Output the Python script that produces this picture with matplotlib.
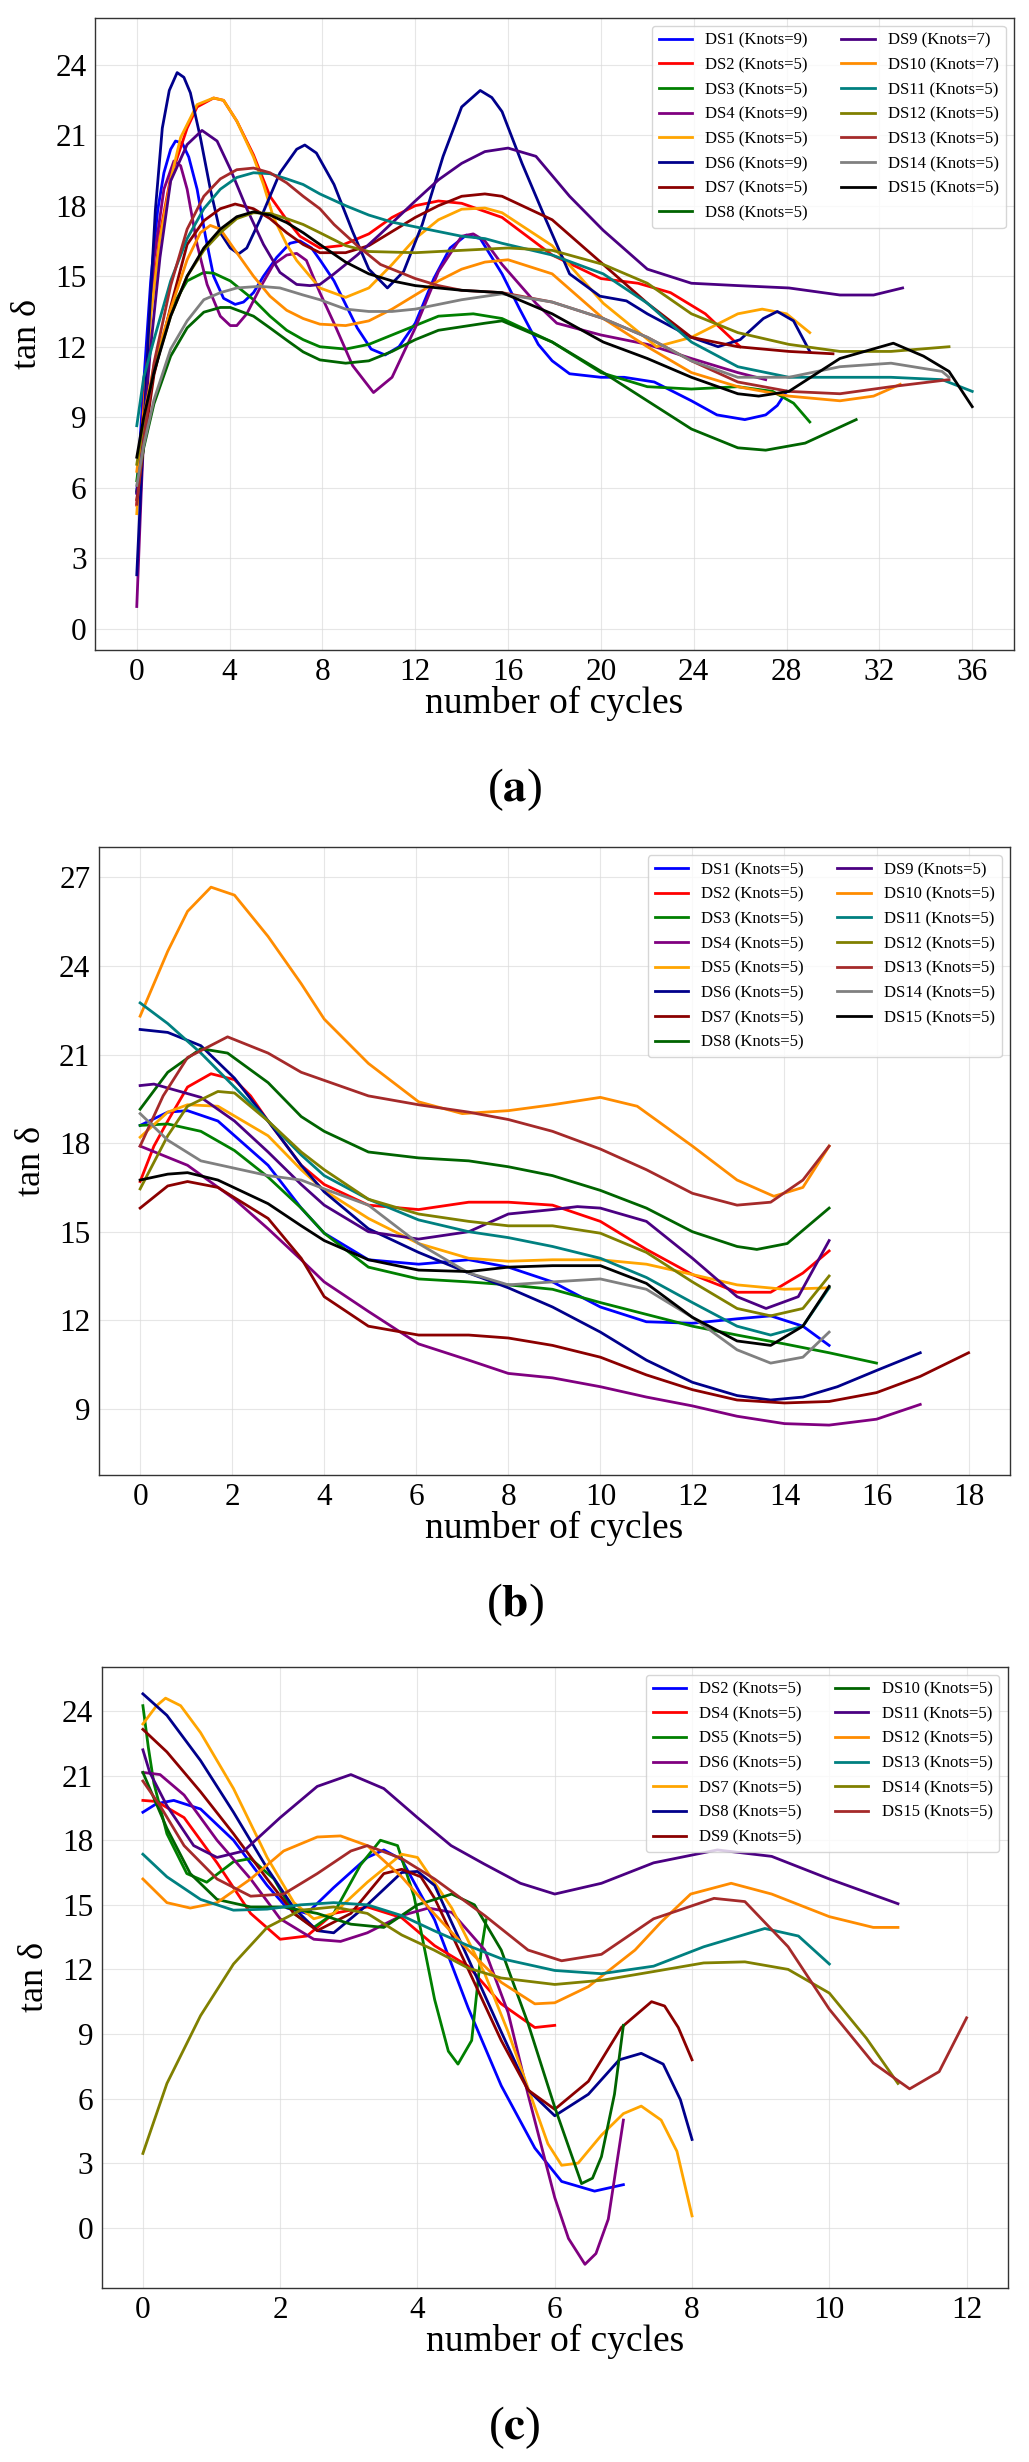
import matplotlib.pyplot as plt

plt.rcParams['font.family'] = ['Liberation Serif', 'DejaVu Serif']
plt.rcParams['mathtext.fontset'] = 'stix'

# ---------------- panel (a) : (cycle, tan delta) ----------------
A_DS1 = [(0, 5.8), (0.3, 10.5), (0.6, 14.8), (0.9, 17.8), (1.17, 19.4), (1.46, 20.4), (1.67, 20.75),
         (1.96, 20.66), (2.24, 20.07), (2.6, 18.7), (2.96, 16.7), (3.31, 15.0), (3.74, 14.06), (4.24, 13.8),
         (4.6, 13.9), (5.03, 14.3), (5.46, 15.0), (6.03, 15.8), (6.6, 16.4), (7.03, 16.5), (7.53, 16.2),
         (7.89, 15.7), (8.5, 14.8), (9.5, 12.8), (10.1, 11.9), (10.7, 11.65), (11.3, 12.0), (12, 13.0),
         (12.8, 14.9), (13.5, 16.2), (14.2, 16.75), (14.8, 16.6), (15.74, 15.1), (16.5, 13.6), (17.3, 12.1),
         (17.9, 11.4), (18.65, 10.85), (20, 10.7), (21, 10.7), (22.3, 10.5), (23.9, 9.7), (25, 9.1),
         (26.2, 8.9), (27.1, 9.1), (27.6, 9.5), (28, 10.1)]
A_DS2 = [(0, 5.26), (0.3, 9.5), (0.6, 13.5), (1.0, 16.8), (1.46, 19.2), (2.17, 21.3), (2.6, 22.2),
         (3.31, 22.58), (3.74, 22.48), (4.31, 21.6), (5.03, 20.16), (5.74, 18.4), (6.46, 17.4), (7.03, 16.7),
         (7.89, 16.2), (8.8, 16.3), (10, 16.8), (11, 17.5), (12, 18.0), (13, 18.2), (14, 18.1), (15.74, 17.5),
         (17.9, 15.9), (20, 14.9), (21.6, 14.7), (23, 14.3), (24.5, 13.4), (26, 12.0)]
A_DS3 = [(0, 6.3), (0.3, 8.6), (0.74, 10.9), (1.46, 13.6), (2.17, 14.8), (2.89, 15.16), (3.31, 15.13),
         (4.03, 14.8), (5.03, 14.0), (5.74, 13.3), (6.46, 12.7), (7.17, 12.3), (7.89, 12.0), (9, 11.9),
         (10, 12.1), (11, 12.5), (12, 12.9), (13, 13.3), (14.5, 13.4), (15.74, 13.2), (17.9, 12.2),
         (20, 10.9), (22, 10.3), (23.9, 10.2), (25.9, 10.3), (27.4, 10.1), (28.3, 9.6), (29, 8.8)]
A_DS4 = [(0, 0.95), (0.2, 6.0), (0.45, 11.5), (0.74, 15.7), (1.17, 18.7), (1.6, 19.9), (1.89, 19.7),
         (2.17, 18.7), (2.6, 16.35), (3.03, 14.65), (3.6, 13.3), (4.03, 12.9), (4.31, 12.9), (4.74, 13.4),
         (5.31, 14.5), (5.89, 15.5), (6.46, 15.9), (6.89, 15.97), (7.31, 15.67), (7.89, 14.3), (8.5, 13.0),
         (9.3, 11.2), (10.2, 10.05), (11, 10.7), (12, 12.8), (13, 15.2), (14, 16.7), (14.5, 16.8), (15, 16.5),
         (15.74, 15.5), (17.2, 13.85), (18.1, 13.0), (20, 12.5), (22, 12.1), (23.9, 11.5), (25.9, 10.9),
         (27.1, 10.6)]
A_DS5 = [(0, 4.9), (0.3, 9.2), (0.6, 13.3), (1.0, 16.6), (1.46, 19.1), (1.89, 20.9), (2.6, 22.3),
         (3.31, 22.58), (3.74, 22.48), (4.31, 21.6), (5.03, 20.07), (5.46, 18.9), (5.89, 17.5), (6.46, 16.35),
         (6.89, 15.67), (7.46, 15.0), (7.89, 14.5), (9, 14.1), (10, 14.5), (11, 15.5), (12, 16.6), (13, 17.4),
         (14, 17.85), (15, 17.9), (15.74, 17.7), (17.9, 16.3), (20.1, 13.85), (22.4, 12.0), (23.9, 12.4),
         (25.9, 13.4), (26.95, 13.6), (28, 13.4), (29, 12.6)]
A_DS6 = [(0, 2.3), (0.2, 6.5), (0.5, 12.5), (0.8, 17.8), (1.1, 21.3), (1.4, 22.9), (1.74, 23.66),
         (2.03, 23.46), (2.31, 22.8), (2.74, 20.9), (3.17, 18.7), (3.6, 16.85), (4.03, 16.2), (4.39, 15.95),
         (4.74, 16.2), (5.31, 17.4), (6.17, 19.4), (6.89, 20.4), (7.24, 20.58), (7.74, 20.24), (8.5, 18.9),
         (9.3, 16.9), (10, 15.3), (10.8, 14.5), (11.5, 15.2), (12.3, 17.2), (13.2, 20.1), (14, 22.2),
         (14.8, 22.9), (15.3, 22.6), (15.74, 22.0), (16.6, 19.8), (17.63, 17.4), (18.65, 15.1), (19.96, 14.15),
         (21.1, 13.95), (22, 13.4), (23.9, 12.4), (25.05, 12.0), (26, 12.3), (27, 13.2), (27.6, 13.5),
         (28.3, 13.1), (29, 11.8)]
A_DS7 = [(0, 5.5), (0.3, 7.8), (0.74, 10.8), (1.46, 13.7), (2.17, 16.35), (2.89, 17.36), (3.6, 17.87),
         (4.24, 18.07), (5.03, 17.87), (5.74, 17.45), (6.46, 16.85), (7.17, 16.35), (7.89, 16.0), (9, 16.0),
         (10, 16.3), (11, 16.9), (12, 17.5), (13, 18.0), (14, 18.4), (15, 18.5), (15.74, 18.4), (17.9, 17.4),
         (20.1, 15.5), (22, 13.85), (23.9, 12.4), (25.9, 12.0), (28.1, 11.8), (30, 11.7)]
A_DS8 = [(0, 5.85), (0.3, 7.7), (0.74, 9.57), (1.46, 11.6), (2.17, 12.8), (2.89, 13.47), (3.6, 13.67),
         (4.03, 13.67), (5.03, 13.3), (5.74, 12.8), (6.46, 12.28), (7.17, 11.78), (7.89, 11.44), (9, 11.3),
         (10, 11.4), (11, 11.8), (12, 12.3), (13, 12.7), (15, 13.0), (15.74, 13.1), (17.9, 12.2), (20.1, 10.9),
         (22, 9.7), (23.9, 8.5), (25.9, 7.7), (27.1, 7.6), (28.8, 7.9), (31, 8.9)]
A_DS9 = [(0, 5.76), (0.3, 8.5), (0.6, 12.0), (1.0, 15.8), (1.46, 19.05), (2.17, 20.6), (2.81, 21.2),
         (3.46, 20.75), (4.03, 19.56), (4.74, 17.87), (5.46, 16.35), (6.17, 15.16), (6.89, 14.65), (7.46, 14.6),
         (7.89, 14.65), (8.5, 15.1), (9.5, 15.9), (10.5, 16.8), (12, 18.2), (13, 19.1), (14, 19.8), (15, 20.3),
         (16, 20.45), (17.2, 20.1), (18.65, 18.4), (20.1, 16.95), (22, 15.3), (23.9, 14.7), (25.9, 14.6),
         (28.1, 14.5), (30.3, 14.2), (31.75, 14.2), (33, 14.5)]
A_DS10 = [(0, 6.7), (0.3, 9.0), (0.74, 11.2), (1.46, 13.6), (2.17, 15.7), (2.74, 16.85), (3.17, 17.16),
          (3.6, 17.0), (4.31, 16.0), (5.03, 15.0), (5.74, 14.15), (6.46, 13.55), (7.17, 13.2), (7.89, 12.96),
          (9, 12.9), (10, 13.1), (11, 13.6), (12, 14.2), (13, 14.8), (14, 15.3), (15, 15.6), (16, 15.7),
          (17.9, 15.1), (20.1, 13.2), (22, 12.0), (23.9, 10.9), (25.9, 10.3), (28.1, 9.9), (30.3, 9.7),
          (31.75, 9.9), (32.9, 10.4)]
A_DS11 = [(0, 8.64), (0.3, 10.7), (0.74, 12.3), (1.46, 14.8), (2.17, 16.6), (2.89, 17.87), (3.6, 18.7),
          (4.31, 19.2), (5.03, 19.4), (5.74, 19.36), (6.46, 19.14), (7.17, 18.9), (7.89, 18.5), (9, 18.0),
          (10, 17.6), (11, 17.3), (12, 17.1), (13, 16.9), (14, 16.7), (15, 16.6), (15.74, 16.4), (17.9, 15.9),
          (20.1, 15.1), (22, 13.85), (23.9, 12.2), (25.9, 11.15), (28.1, 10.7), (30.3, 10.7), (32.5, 10.7),
          (34.7, 10.6), (36, 10.1)]
A_DS12 = [(0, 7.0), (0.3, 8.8), (0.74, 11.0), (1.46, 13.3), (2.17, 15.0), (2.89, 16.1), (3.6, 16.85),
          (4.31, 17.45), (5.03, 17.7), (5.74, 17.67), (6.46, 17.45), (7.17, 17.2), (7.89, 16.85), (9, 16.3),
          (10, 16.05), (12, 16.0), (14, 16.1), (16, 16.2), (17.9, 16.1), (20.1, 15.5), (22, 14.7), (23.9, 13.4),
          (25.9, 12.6), (28.1, 12.1), (30.3, 11.8), (32.5, 11.8), (35, 12.0)]
A_DS13 = [(0, 5.3), (0.3, 8.0), (0.74, 11.3), (1.46, 14.6), (2.17, 17.0), (2.89, 18.4), (3.6, 19.14),
          (4.31, 19.53), (5.03, 19.6), (5.74, 19.4), (6.46, 18.97), (7.17, 18.4), (7.89, 17.87), (8.5, 17.2),
          (9.5, 16.3), (10.5, 15.5), (12, 14.9), (13, 14.6), (14, 14.4), (15.74, 14.3), (17.9, 13.9),
          (20.1, 13.2), (22, 12.4), (23.9, 11.4), (25.9, 10.5), (28.1, 10.1), (30.3, 10.0), (32.5, 10.3),
          (35, 10.6)]
A_DS14 = [(0, 6.1), (0.3, 7.8), (0.74, 9.74), (1.46, 11.9), (2.17, 13.1), (2.89, 14.0), (3.6, 14.3),
          (4.31, 14.5), (5.31, 14.57), (6.17, 14.5), (7.17, 14.2), (7.89, 14.0), (9, 13.6), (10, 13.5),
          (11, 13.5), (12, 13.6), (13, 13.8), (14, 14.0), (15.74, 14.25), (17.9, 13.9), (20.1, 13.2),
          (22, 12.4), (23.9, 11.4), (25.9, 10.7), (28.1, 10.7), (30.3, 11.15), (32.5, 11.3), (34.7, 10.95),
          (35, 10.7)]
A_DS15 = [(0, 7.3), (0.3, 9.0), (0.74, 10.9), (1.46, 13.3), (2.17, 15.0), (2.89, 16.2), (3.6, 17.0),
          (4.31, 17.53), (5.03, 17.74), (5.74, 17.6), (6.46, 17.28), (7.17, 16.85), (7.89, 16.35), (9, 15.6),
          (10, 15.1), (11, 14.8), (12, 14.6), (13, 14.5), (14, 14.4), (15.74, 14.3), (17.9, 13.4), (20.1, 12.2),
          (22, 11.5), (23.9, 10.7), (25.9, 10.0), (26.8, 9.9), (28.1, 10.1), (30.3, 11.5), (32.6, 12.15),
          (33.9, 11.6), (35, 10.95), (36, 9.45)]

# ---------------- panel (b) ----------------
B_DS1 = [(0, 18.6), (0.6, 19.05), (1.03, 19.1), (1.69, 18.75), (2.78, 17.25), (3.5, 15.8), (4, 14.95),
         (4.96, 14.05), (6.05, 13.9), (7.14, 14.05), (8, 13.8), (8.96, 13.3), (10, 12.45), (11, 11.95),
         (12, 11.9), (12.97, 12.05), (13.7, 12.15), (14.4, 11.8), (14.97, 11.15)]
B_DS2 = [(0, 16.7), (0.3, 17.9), (0.6, 18.75), (1.03, 19.9), (1.54, 20.35), (2.05, 20.15), (2.4, 19.6),
         (2.78, 18.75), (3.5, 17.25), (4, 16.6), (4.96, 15.9), (6.05, 15.75), (7.14, 16.0), (8, 16.0),
         (8.96, 15.9), (10, 15.35), (11, 14.4), (12, 13.55), (12.97, 12.95), (13.7, 12.95), (14.4, 13.6),
         (14.97, 14.35)]
B_DS3 = [(0, 18.6), (0.6, 18.65), (1.32, 18.4), (2.05, 17.75), (2.78, 16.85), (3.5, 15.8), (4, 14.95),
         (4.96, 13.8), (6.05, 13.4), (7.14, 13.3), (8, 13.2), (8.96, 13.05), (10, 12.6), (11, 12.2), (12, 11.8),
         (12.97, 11.5), (14, 11.2), (14.97, 10.9), (16, 10.55)]
B_DS4 = [(0, 17.9), (1.03, 17.25), (2.05, 16.1), (2.78, 15.1), (3.5, 14.05), (4, 13.3), (4.96, 12.3),
         (6.05, 11.2), (7.14, 10.65), (8, 10.2), (8.96, 10.05), (10, 9.75), (11, 9.4), (12, 9.1), (12.97, 8.75),
         (14, 8.5), (14.97, 8.45), (16, 8.65), (16.95, 9.15)]
B_DS5 = [(0, 18.2), (0.6, 19.05), (1.03, 19.3), (1.69, 19.25), (2.78, 18.25), (3.5, 17.1), (4, 16.4),
         (4.96, 15.45), (6.05, 14.6), (7.14, 14.1), (8, 14.0), (8.96, 14.05), (10, 14.05), (11, 13.9),
         (12, 13.55), (12.97, 13.2), (14, 13.05), (14.97, 13.1)]
B_DS6 = [(0, 21.85), (0.6, 21.75), (1.32, 21.3), (2.05, 20.2), (2.78, 18.75), (3.5, 17.25), (4, 16.35),
         (4.96, 15.1), (6.05, 14.3), (7.14, 13.6), (8, 13.1), (8.96, 12.45), (10, 11.6), (11, 10.65),
         (12, 9.9), (12.97, 9.45), (13.7, 9.3), (14.4, 9.4), (15.15, 9.75), (16, 10.3), (16.95, 10.9)]
B_DS7 = [(0, 15.8), (0.6, 16.55), (1.03, 16.7), (1.69, 16.5), (2.78, 15.45), (3.5, 14.1), (4, 12.8),
         (4.96, 11.8), (6.05, 11.5), (7.14, 11.5), (8, 11.4), (8.96, 11.15), (10, 10.75), (11, 10.15),
         (12, 9.65), (12.97, 9.3), (14, 9.2), (14.97, 9.25), (16, 9.55), (16.95, 10.1), (18, 10.9)]
B_DS8 = [(0, 19.15), (0.6, 20.4), (1.32, 21.2), (1.9, 21.05), (2.78, 20.05), (3.5, 18.9), (4, 18.4),
         (4.96, 17.7), (6.05, 17.5), (7.14, 17.4), (8, 17.2), (8.96, 16.9), (10, 16.4), (11, 15.8), (12, 15.0),
         (12.97, 14.5), (13.4, 14.4), (14.06, 14.6), (14.97, 15.8)]
B_DS9 = [(0, 19.95), (0.3, 20.0), (1.32, 19.55), (2.05, 18.75), (2.78, 17.7), (3.5, 16.6), (4, 15.9),
         (4.96, 15.0), (6.05, 14.75), (7.14, 15.0), (8, 15.6), (8.96, 15.75), (9.5, 15.85), (10, 15.8),
         (11, 15.35), (12, 14.1), (12.97, 12.8), (13.6, 12.4), (14.3, 12.8), (14.97, 14.7)]
B_DS10 = [(0, 22.3), (0.6, 24.5), (1.03, 25.85), (1.54, 26.67), (2.05, 26.4), (2.78, 25.0), (3.5, 23.4),
          (4, 22.2), (4.96, 20.7), (6.05, 19.4), (7.0, 19.0), (8, 19.1), (8.96, 19.3), (10, 19.55),
          (10.8, 19.25), (12, 17.9), (12.97, 16.75), (13.77, 16.2), (14.4, 16.5), (14.97, 17.9)]
B_DS11 = [(0, 22.75), (0.6, 22.05), (1.32, 21.05), (2.05, 19.9), (2.78, 18.75), (3.5, 17.6), (4, 16.9),
          (4.96, 16.1), (6.05, 15.4), (7.14, 15.0), (8, 14.8), (8.96, 14.5), (10, 14.1), (11, 13.45),
          (12, 12.6), (12.97, 11.8), (13.7, 11.5), (14.4, 11.8), (14.97, 13.1)]
B_DS12 = [(0, 16.45), (0.6, 18.25), (1.03, 19.25), (1.69, 19.75), (2.05, 19.7), (2.78, 18.75), (3.5, 17.7),
          (4, 17.1), (4.96, 16.1), (6.05, 15.6), (7.14, 15.35), (8, 15.2), (8.96, 15.2), (10, 14.95),
          (11, 14.3), (12, 13.3), (12.97, 12.4), (13.7, 12.15), (14.4, 12.4), (14.97, 13.5)]
B_DS13 = [(0, 17.9), (0.5, 19.6), (1.03, 20.9), (1.9, 21.6), (2.78, 21.05), (3.5, 20.4), (4.23, 20.0),
          (4.96, 19.6), (6.05, 19.3), (7.14, 19.05), (8, 18.8), (8.96, 18.4), (10, 17.8), (11, 17.1),
          (12, 16.3), (12.97, 15.9), (13.7, 16.0), (14.4, 16.75), (14.97, 17.9)]
B_DS14 = [(0, 19.0), (0.6, 18.1), (1.32, 17.4), (2.05, 17.15), (2.78, 16.9), (3.5, 16.75), (4, 16.45),
          (4.96, 15.9), (6.05, 14.6), (7.14, 13.6), (8, 13.2), (8.96, 13.3), (10, 13.4), (11, 13.05),
          (12, 12.1), (12.97, 11.0), (13.7, 10.55), (14.4, 10.75), (14.97, 11.6)]
B_DS15 = [(0, 16.75), (0.6, 16.95), (1.03, 17.0), (1.69, 16.75), (2.78, 15.95), (3.5, 15.2), (4, 14.7),
          (4.96, 14.05), (6.05, 13.7), (7.14, 13.65), (8, 13.8), (8.96, 13.85), (10, 13.85), (11, 13.25),
          (12, 12.1), (12.97, 11.3), (13.7, 11.15), (14.4, 11.8), (14.97, 13.15)]

# ---------------- panel (c) ----------------
C_DS2 = [(0, 19.3), (0.2, 19.7), (0.45, 19.85), (0.84, 19.45), (1.32, 18.0), (1.81, 15.9), (2.1, 14.85),
         (2.39, 14.6), (2.78, 15.8), (3.27, 17.2), (3.51, 17.55), (3.77, 17.1), (4.25, 14.3), (4.74, 10.2),
         (5.22, 6.6), (5.71, 3.7), (6.1, 2.15), (6.58, 1.7), (7.0, 2.0)]
C_DS4 = [(0, 19.85), (0.2, 19.8), (0.6, 19.05), (1.08, 16.95), (1.57, 14.6), (2.0, 13.4), (2.39, 13.55),
         (2.78, 14.6), (3.27, 14.9), (3.77, 14.4), (4.25, 13.1), (4.74, 12.15), (5.22, 10.4), (5.71, 9.3),
         (6.0, 9.4)]
C_DS5 = [(0, 24.25), (0.08, 22.3), (0.16, 20.65), (0.35, 18.3), (0.64, 16.45), (0.93, 16.05), (1.32, 17.0),
         (1.57, 17.15), (1.91, 16.2), (2.2, 14.6), (2.49, 13.95), (2.78, 14.6), (3.17, 16.85), (3.46, 18.0),
         (3.71, 17.75), (3.95, 15.4), (4.25, 10.6), (4.45, 8.2), (4.59, 7.6), (4.79, 8.7), (4.93, 12.9),
         (5.0, 14.3)]
C_DS6 = [(0, 21.15), (0.25, 21.05), (0.6, 20.1), (1.08, 18.0), (1.57, 16.2), (2.0, 14.35), (2.49, 13.4),
         (2.88, 13.3), (3.27, 13.7), (3.77, 14.5), (4.16, 14.85), (4.5, 14.65), (4.98, 12.9), (5.32, 10.0),
         (5.61, 6.2), (6.0, 1.4), (6.2, -0.5), (6.44, -1.7), (6.6, -1.2), (6.78, 0.4), (7.0, 5.0)]
C_DS7 = [(0, 23.4), (0.2, 24.25), (0.33, 24.6), (0.55, 24.25), (0.84, 23.0), (1.32, 20.4), (1.81, 17.2),
         (2.2, 15.1), (2.49, 14.35), (2.78, 14.6), (3.27, 16.05), (3.77, 17.35), (4.0, 17.2), (4.5, 14.85),
         (4.98, 11.8), (5.32, 9.1), (5.71, 5.6), (5.9, 3.9), (6.1, 2.9), (6.34, 3.0), (6.68, 4.3), (7.0, 5.3),
         (7.26, 5.65), (7.55, 5.0), (7.78, 3.55), (8.0, 0.55)]
C_DS8 = [(0, 24.8), (0.35, 23.8), (0.84, 21.7), (1.32, 19.3), (1.81, 16.7), (2.2, 14.85), (2.54, 13.8),
         (2.78, 13.7), (3.27, 15.0), (3.77, 16.5), (4.0, 16.55), (4.25, 15.9), (4.74, 12.5), (5.22, 9.1),
         (5.61, 6.4), (6.0, 5.2), (6.49, 6.2), (6.94, 7.8), (7.26, 8.1), (7.58, 7.6), (7.83, 5.95), (8.0, 4.1)]
C_DS9 = [(0, 23.15), (0.35, 22.1), (0.84, 20.25), (1.32, 18.3), (1.81, 16.2), (2.2, 14.6), (2.54, 13.8),
         (3.03, 14.6), (3.51, 16.45), (3.77, 16.65), (4.05, 16.3), (4.25, 15.3), (4.74, 12.0), (5.22, 8.7),
         (5.61, 6.4), (6.0, 5.5), (6.49, 6.8), (6.97, 9.3), (7.41, 10.5), (7.6, 10.3), (7.8, 9.3), (8.0, 7.8)]
C_DS10 = [(0, 21.15), (0.35, 18.55), (0.69, 16.45), (1.08, 15.25), (1.57, 14.9), (2.05, 14.9), (2.54, 14.6),
          (3.03, 14.1), (3.51, 13.95), (4.0, 15.0), (4.5, 15.5), (4.83, 15.0), (5.22, 12.9), (5.61, 9.5),
          (6.0, 5.6), (6.39, 2.05), (6.55, 2.3), (6.68, 3.3), (6.87, 6.2), (7.0, 9.4)]
C_DS11 = [(0, 22.2), (0.1, 21.15), (0.35, 19.6), (0.74, 17.75), (1.08, 17.2), (1.47, 17.5), (2.0, 19.05),
          (2.54, 20.5), (3.03, 21.05), (3.51, 20.4), (4.0, 19.05), (4.49, 17.75), (4.97, 16.9), (5.5, 16.0),
          (6.0, 15.5), (6.68, 16.0), (7.44, 16.95), (8.37, 17.55), (9.16, 17.25), (10, 16.2), (11, 15.05)]
C_DS12 = [(0, 16.2), (0.35, 15.1), (0.69, 14.85), (1.08, 15.1), (1.57, 16.2), (2.05, 17.5), (2.54, 18.15),
          (2.88, 18.2), (3.27, 17.75), (3.77, 16.3), (4.24, 14.6), (4.74, 12.9), (5.22, 11.4), (5.71, 10.4),
          (6.0, 10.45), (6.49, 11.2), (7.17, 12.9), (7.55, 14.2), (7.98, 15.5), (8.57, 16.0), (9.16, 15.5),
          (10, 14.45), (10.64, 13.95), (11, 13.95)]
C_DS13 = [(0, 17.35), (0.35, 16.3), (0.84, 15.25), (1.32, 14.75), (1.81, 14.8), (2.3, 15.0), (2.78, 15.1),
          (3.27, 15.0), (3.77, 14.5), (4.24, 13.8), (4.74, 13.1), (5.22, 12.5), (6.0, 11.95), (6.68, 11.8),
          (7.44, 12.15), (8.17, 13.05), (9.06, 13.9), (9.55, 13.55), (10, 12.25)]
C_DS14 = [(0, 3.45), (0.35, 6.7), (0.84, 9.85), (1.32, 12.25), (1.81, 13.95), (2.3, 14.75), (2.78, 14.9),
          (3.27, 14.6), (3.77, 13.6), (4.24, 12.9), (4.74, 12.06), (5.22, 11.6), (6.0, 11.3), (6.7, 11.5),
          (7.44, 11.9), (8.17, 12.3), (8.77, 12.35), (9.4, 12.0), (10, 10.9), (10.54, 8.8), (11, 6.7)]
C_DS15 = [(0, 20.75), (0.25, 19.6), (0.6, 17.75), (1.08, 16.2), (1.57, 15.4), (2.05, 15.5), (2.54, 16.45),
          (3.03, 17.5), (3.27, 17.75), (3.77, 17.15), (4.25, 16.2), (4.98, 14.5), (5.61, 12.9), (6.1, 12.4),
          (6.68, 12.7), (7.44, 14.35), (8.32, 15.3), (8.77, 15.15), (9.4, 13.05), (10, 10.15), (10.64, 7.65),
          (11.17, 6.45), (11.6, 7.25), (12, 9.75)]

colors = ['blue', 'red', 'green', 'purple', 'orange', 'darkblue', 'darkred', 'darkgreen',
          'indigo', 'darkorange', 'teal', 'olive', 'brown', 'gray', 'black']

a_names = ['DS1', 'DS2', 'DS3', 'DS4', 'DS5', 'DS6', 'DS7', 'DS8',
           'DS9', 'DS10', 'DS11', 'DS12', 'DS13', 'DS14', 'DS15']
a_knots = [9, 5, 5, 9, 5, 9, 5, 5, 7, 7, 5, 5, 5, 5, 5]
a_curves = [A_DS1, A_DS2, A_DS3, A_DS4, A_DS5, A_DS6, A_DS7, A_DS8,
            A_DS9, A_DS10, A_DS11, A_DS12, A_DS13, A_DS14, A_DS15]

b_names = a_names
b_knots = [5] * 15
b_curves = [B_DS1, B_DS2, B_DS3, B_DS4, B_DS5, B_DS6, B_DS7, B_DS8,
            B_DS9, B_DS10, B_DS11, B_DS12, B_DS13, B_DS14, B_DS15]

c_names = ['DS2', 'DS4', 'DS5', 'DS6', 'DS7', 'DS8', 'DS9',
           'DS10', 'DS11', 'DS12', 'DS13', 'DS14', 'DS15']
c_knots = [5] * 13
c_curves = [C_DS2, C_DS4, C_DS5, C_DS6, C_DS7, C_DS8, C_DS9,
            C_DS10, C_DS11, C_DS12, C_DS13, C_DS14, C_DS15]

W, H = 1029, 2462
fig = plt.figure(figsize=(W / 100, H / 100), dpi=100)


def panel(box, curves, names, knots, xticks, yticks, xlim, ylim):
    l, t, r, b = box
    ax = fig.add_axes([l / W, 1 - b / H, (r - l) / W, (b - t) / H])
    for i, (pts, nm, k) in enumerate(zip(curves, names, knots)):
        xs = [p[0] for p in pts]
        ys = [p[1] for p in pts]
        ax.plot(xs, ys, color=colors[i], lw=2, label=f'{nm} (Knots={k})')
    ax.set_xlim(*xlim)
    ax.set_ylim(*ylim)
    ax.set_xticks(xticks)
    ax.set_yticks(yticks)
    ax.tick_params(length=0, labelsize=22.5, pad=6)
    ax.grid(True, color='#dcdcdc', lw=0.8, alpha=0.7)
    for s in ax.spines.values():
        s.set_color('#333333')
        s.set_linewidth(1.0)
    ax.set_xlabel('number of cycles', fontsize=27, labelpad=-1)
    ax.set_ylabel('tan δ', fontsize=26, labelpad=8)
    ax.legend(loc='upper right', ncol=2, fontsize=12, labelspacing=0.52,
              edgecolor='#cccccc', borderaxespad=0.5)
    return ax


panel((95, 17.6, 1014, 650), a_curves, a_names, a_knots,
      range(0, 37, 4), range(0, 25, 3), (-1.8, 37.8), (-0.9, 26.0))
panel((98.7, 847, 1010, 1475), b_curves, b_names, b_knots,
      range(0, 19, 2), range(9, 28, 3), (-0.9, 18.9), (6.76, 28.03))
panel((101.7, 1666.5, 1007.8, 2288), c_curves, c_names, c_knots,
      range(0, 13, 2), range(0, 25, 3), (-0.6, 12.6), (-2.8, 26.07))

# sub-figure captions
for lab, yc in [('a', 790), ('b', 1605), ('c', 2428)]:
    fig.text(0.5, 1 - yc / H, r'($\mathbf{%s}$)' % lab, fontsize=34, ha='center', va='center')

fig.savefig('out.png', dpi=100)
